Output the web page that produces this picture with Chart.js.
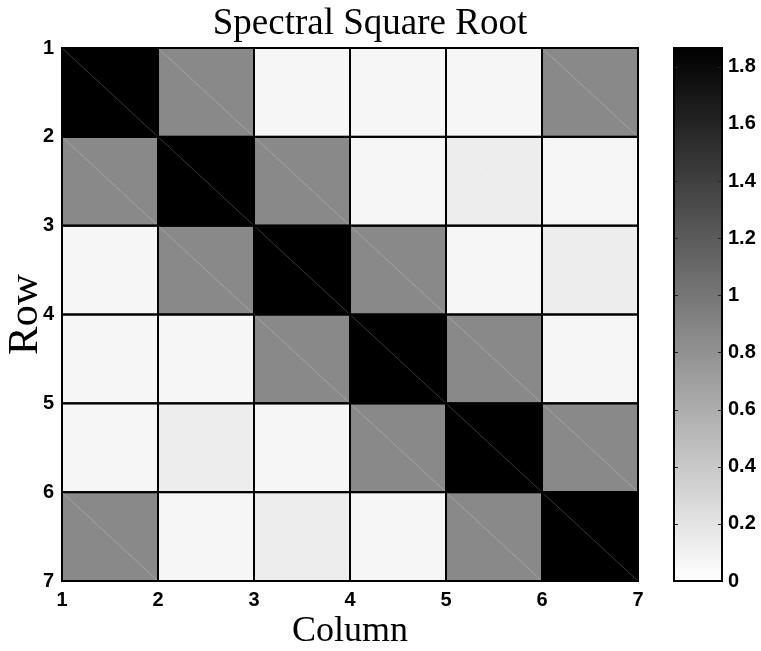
<!DOCTYPE html>
<html>
<head>
<meta charset="utf-8">
<title>Spectral Square Root</title>
<script src="https://cdn.jsdelivr.net/npm/chart.js@4.4.1/dist/chart.umd.min.js"></script>
<style>
  html, body { margin: 0; padding: 0; background: #fff; }
  canvas { display: block; }
</style>
</head>
<body>
<canvas id="spectral" width="761" height="651"></canvas>
<script>
// matrix entries, one array per row (row 1 drawn at the top)
var columns = [1, 2, 3, 4, 5, 6];
var rows = [1, 2, 3, 4, 5, 6];
var row1 = [1.866, 0.866, 0.067, 0.067, 0.067, 0.866];
var row2 = [0.866, 1.866, 0.866, 0.067, 0.134, 0.067];
var row3 = [0.067, 0.866, 1.866, 0.866, 0.067, 0.134];
var row4 = [0.067, 0.067, 0.866, 1.866, 0.866, 0.067];
var row5 = [0.067, 0.134, 0.067, 0.866, 1.866, 0.866];
var row6 = [0.866, 0.067, 0.134, 0.067, 0.866, 1.866];
var matrix = [row1, row2, row3, row4, row5, row6];

var axisTicks = [1, 2, 3, 4, 5, 6, 7];
var colorTicks = [0, 0.2, 0.4, 0.6, 0.8, 1, 1.2, 1.4, 1.6, 1.8];
var colorMax = 1.866;

var tickFont = { family: 'Liberation Sans, Arial, sans-serif', size: 20, weight: 'bold' };
var serif = 'Liberation Serif, Times New Roman, serif';

function grayLevel(v) {
    var t = Math.max(0, Math.min(v, colorMax)) / colorMax;
    return Math.round(255 * (1 - t));
}
function rgb(g) {
    return 'rgb(' + g + ',' + g + ',' + g + ')';
}

var cells = [];
rows.forEach(function (r, i) {
    columns.forEach(function (c, j) {
        cells.push({ x: c, y: r, v: matrix[i][j] });
    });
});

// each cell spans [c, c+1] x [r, r+1]
var cellPlugin = {
    id: 'cells',
    beforeDatasetsDraw: function (chart) {
        var ctx = chart.ctx, xs = chart.scales.x, ys = chart.scales.y;
        var pts = chart.data.datasets[0].data;
        ctx.save();
        pts.forEach(function (p) {
            var x0 = xs.getPixelForValue(p.x), x1 = xs.getPixelForValue(p.x + 1);
            var y0 = ys.getPixelForValue(p.y), y1 = ys.getPixelForValue(p.y + 1);
            var g = grayLevel(p.v);
            ctx.fillStyle = rgb(g);
            ctx.fillRect(x0, y0, x1 - x0, y1 - y0);
            // faint seam where the cell was split into two triangles
            ctx.strokeStyle = rgb(Math.round(g + (255 - g) * 0.22));
            ctx.lineWidth = 1;
            ctx.beginPath();
            ctx.moveTo(x0, y0);
            ctx.lineTo(x1, y1);
            ctx.stroke();
        });
        ctx.strokeStyle = '#000';
        ctx.lineWidth = 2;
        pts.forEach(function (p) {
            var x0 = xs.getPixelForValue(p.x), x1 = xs.getPixelForValue(p.x + 1);
            var y0 = ys.getPixelForValue(p.y), y1 = ys.getPixelForValue(p.y + 1);
            ctx.strokeRect(x0, y0, x1 - x0, y1 - y0);
        });
        ctx.restore();
    }
};

// gray colour bar, sitting just left of the cb axis labels
var colorbarPlugin = {
    id: 'colorbar',
    afterDraw: function (chart) {
        var ctx = chart.ctx, cb = chart.scales.cb;
        var right = cb.left, left = cb.left - 48;
        var top = cb.getPixelForValue(colorMax), bottom = cb.getPixelForValue(0);
        ctx.save();
        var grad = ctx.createLinearGradient(0, bottom, 0, top);
        grad.addColorStop(0, rgb(255));
        grad.addColorStop(1, rgb(0));
        ctx.fillStyle = grad;
        ctx.fillRect(left, top, right - left, bottom - top);
        ctx.strokeStyle = '#222';
        ctx.lineWidth = 1;
        colorTicks.forEach(function (v) {
            var y = Math.round(cb.getPixelForValue(v)) + 0.5;
            ctx.beginPath();
            ctx.moveTo(left, y); ctx.lineTo(left + 4, y);
            ctx.moveTo(right - 4, y); ctx.lineTo(right, y);
            ctx.stroke();
        });
        ctx.strokeStyle = '#000';
        ctx.lineWidth = 2;
        ctx.strokeRect(left, top, right - left, bottom - top);
        ctx.restore();
    }
};

function fixedTicks(list) {
    return function (scale) {
        scale.ticks = list.map(function (v) { return { value: v }; });
    };
}

new Chart(document.getElementById('spectral'), {
    type: 'scatter',
    data: {
        datasets: [{
            data: cells,
            pointRadius: 0,
            pointHoverRadius: 0
        }]
    },
    options: {
        responsive: false,
        animation: false,
        events: [],
        layout: { padding: { left: -21, right: 0, top: 0, bottom: 0 } },
        plugins: {
            legend: { display: false },
            tooltip: { enabled: false },
            title: {
                display: true,
                text: 'Spectral Square Root',
                color: '#000',
                font: { family: serif, size: 37, weight: 'normal' },
                padding: { top: 2, bottom: 1.6 }
            }
        },
        scales: {
            x: {
                type: 'linear',
                position: 'bottom',
                min: 1,
                max: 7,
                afterBuildTicks: fixedTicks(axisTicks),
                afterFit: function (s) { s.height = 70; },
                grid: { display: false, drawTicks: false },
                border: { display: false },
                ticks: { color: '#000', font: tickFont, padding: 7, maxRotation: 0, autoSkip: false },
                title: {
                    display: true,
                    text: 'Column',
                    color: '#000',
                    font: { family: serif, size: 36, lineHeight: 1 },
                    padding: { top: 0, bottom: 1 }
                }
            },
            y: {
                type: 'linear',
                position: 'left',
                reverse: true,
                min: 1,
                max: 7,
                afterBuildTicks: fixedTicks(axisTicks),
                afterFit: function (s) { s.width = 83; },
                grid: { display: false, drawTicks: false },
                border: { display: false },
                ticks: { color: '#000', font: tickFont, padding: 8, autoSkip: false },
                title: {
                    display: true,
                    text: 'Row',
                    color: '#000',
                    font: { family: serif, size: 43 },
                    padding: { top: 21, bottom: 0 }
                }
            },
            // empty strip between the plot and the colour bar axis
            gap: {
                type: 'linear',
                position: 'right',
                weight: 0,
                min: 0,
                max: 1,
                afterFit: function (s) { s.width = 84; },
                grid: { display: false, drawTicks: false },
                border: { display: false },
                ticks: { display: false }
            },
            cb: {
                type: 'linear',
                position: 'right',
                weight: 1,
                min: 0,
                max: colorMax,
                afterBuildTicks: fixedTicks(colorTicks),
                afterFit: function (s) { s.width = 39; },
                grid: { display: false, drawTicks: false },
                border: { display: false },
                ticks: {
                    color: '#000',
                    font: tickFont,
                    padding: 6,
                    autoSkip: false,
                    callback: function (v) { return String(Math.round(v * 10) / 10); }
                }
            }
        }
    },
    plugins: [cellPlugin, colorbarPlugin]
});
</script>
</body>
</html>
